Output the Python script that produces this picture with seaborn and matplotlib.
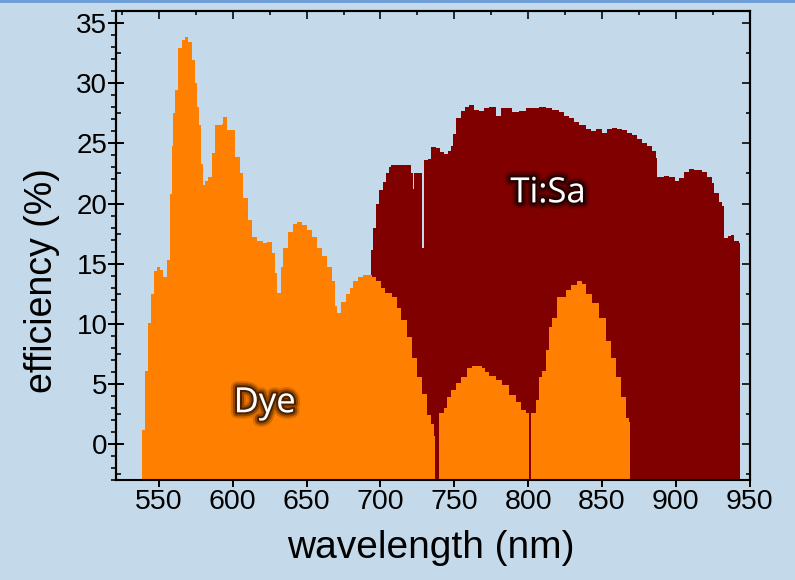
import matplotlib

matplotlib.use("Agg")
import matplotlib.pyplot as plt
import numpy as np
import seaborn as sns
from matplotlib import patheffects
from matplotlib.patches import Rectangle
from matplotlib.ticker import FixedLocator, MultipleLocator, NullLocator

# Dye laser tuning curve: left edge of each step (nm) and efficiency (%)
dye_start = [
    538.5, 540.5, 542.6, 544.6, 546.6, 548.6, 550.7, 552.7, 555.4, 557.4,
    558.8, 559.5, 560.8, 562.8, 565.5, 567.6, 569.6, 572.3, 574.3, 575.7,
    577.0, 578.4, 579.7, 581.1, 583.1, 585.8, 587.8, 592.6, 593.2, 596.0,
    601.4, 604.7, 606.8, 610.1, 612.8, 616.2, 620.3, 623.0, 626.4, 628.4,
    629.7, 632.4, 633.8, 637.2, 640.5, 643.5, 646.6, 650.0, 653.4, 656.8,
    660.1, 663.5, 666.9, 668.9, 670.9, 673.6, 677.0, 679.1, 681.1, 684.5,
    688.0, 694.0, 697.3, 700.7, 703.4, 708.1, 711.0, 714.2, 718.2, 721.6,
    725.0, 728.4, 731.8, 734.5, 736.5, 737.2, 739.9, 743.2, 745.3, 748.0,
    751.4, 754.7, 758.8, 762.0, 766.0, 768.9, 771.0, 773.7, 778.4, 782.4,
    787.2, 791.9, 795.3, 798.7, 800.7, 802.2, 805.4, 807.4, 809.5, 812.2,
    814.2, 816.2, 819.6, 825.7, 829.1, 833.1, 836.5, 839.2, 843.2, 847.9,
    852.7, 856.1, 859.5, 862.8, 866.2, 868.2,
]
dye_eff = [
    1.2, 6.1, 10.1, 12.5, 14.4, 14.7, 14.5, 13.9, 15.3, 20.8,
    24.8, 27.5, 29.4, 32.9, 33.6, 33.8, 33.4, 31.9, 30.0, 28.0,
    26.5, 23.3, 21.5, 21.9, 22.2, 24.2, 26.5, 26.6, 27.2, 26.1,
    23.9, 22.5, 20.5, 18.6, 17.2, 16.9, 16.7, 16.8, 15.9, 14.2,
    12.6, 14.7, 16.3, 17.6, 18.3, 18.5, 18.2, 17.8, 17.2, 16.3,
    15.6, 14.7, 13.6, 11.5, 10.9, 11.8, 12.5, 13.0, 13.6, 13.9,
    14.1, 13.9, 13.6, 13.0, 12.6, 12.2, 11.3, 10.3, 8.9, 7.2,
    5.6, 4.2, 2.4, 1.7, 0.7, np.nan, 2.6, 3.0, 3.9, 4.5,
    5.1, 5.6, 6.3, 6.5, 6.5, 6.3, 6.0, 5.7, 5.3, 4.9,
    4.1, 3.5, 2.8, 2.6, np.nan, 2.6, 3.7, 5.6, 6.1, 7.8,
    9.7, 10.5, 12.2, 12.8, 13.2, 13.6, 13.3, 12.5, 11.7, 10.5,
    8.6, 7.2, 5.6, 3.9, 2.2, 1.8,
]
dye_end = 869.0

# Ti:Sa laser tuning curve
tisa_start = [
    692.6, 693.9, 694.8, 697.1, 699.3, 701.6, 703.9, 706.1, 707.2, 720.7,
    722.0, 722.9, 728.2, 729.2, 732.0, 734.3, 737.6, 740.0, 743.2, 745.5,
    747.8, 749.0, 751.4, 754.7, 757.4, 760.1, 763.5, 766.9, 770.3, 773.7,
    778.4, 781.8, 785.1, 789.2, 793.9, 798.7, 802.7, 807.4, 812.2, 816.2,
    820.9, 824.3, 827.7, 831.1, 834.5, 839.2, 842.6, 846.0, 850.0, 853.4,
    856.8, 860.1, 863.5, 866.9, 870.3, 873.7, 877.0, 880.4, 883.8, 886.5,
    887.2, 891.9, 895.3, 899.3, 902.0, 905.4, 908.8, 912.2, 917.6, 921.0,
    924.4, 925.7, 929.1, 931.2, 932.5, 935.2, 937.2, 939.3, 942.6,
]
tisa_eff = [
    14.0, 16.1, 18.0, 20.0, 21.1, 21.8, 22.5, 23.0, 23.2, 22.5,
    21.2, 22.5, 16.3, 23.6, 23.7, 24.7, 24.6, 24.3, 24.1, 24.4,
    24.8, 25.8, 27.1, 27.7, 28.0, 28.2, 27.8, 27.7, 27.9, 28.0,
    27.3, 27.9, 27.9, 27.6, 27.7, 27.9, 27.9, 28.0, 27.9, 27.8,
    27.6, 27.3, 27.1, 26.8, 26.5, 26.2, 26.0, 26.2, 25.9, 26.2,
    26.3, 26.2, 26.1, 25.9, 25.7, 25.4, 25.0, 24.8, 24.4, 23.8,
    22.2, 22.3, 22.2, 21.9, 22.1, 22.6, 22.9, 22.8, 22.6, 22.2,
    21.7, 20.9, 20.1, 19.8, 17.1, 17.3, 17.4, 16.9, 16.7,
]
tisa_end = 943.3

x_ticks = [550, 600, 650, 700, 750, 800, 850, 900, 950]
y_ticks = [0, 5, 10, 15, 20, 25, 30, 35]

BG = "#c4d9e9"
DYE_COLOR = "#ff8000"
TISA_COLOR = "#800000"
Y_MIN, Y_MAX = -3, 36


def glow(color):
    # soft dark halo behind the white labels
    return [
        patheffects.withStroke(linewidth=9, foreground=color, alpha=0.2),
        patheffects.withStroke(linewidth=6, foreground=color, alpha=0.4),
        patheffects.withStroke(linewidth=3, foreground=color, alpha=0.8),
    ]


sns.set_theme(style="ticks", rc={
    "axes.facecolor": BG,
    "figure.facecolor": BG,
    "axes.edgecolor": "black",
    "axes.linewidth": 1.5,
})
plt.rcParams["font.family"] = ["Liberation Sans", "DejaVu Sans"]

fig, ax = plt.subplots(figsize=(7.95, 5.8), dpi=100)
fig.subplots_adjust(left=0.146, right=0.943, top=0.981, bottom=0.172)

ax.stairs(tisa_eff, tisa_start + [tisa_end], baseline=Y_MIN, fill=True,
          color=TISA_COLOR, lw=0)
ax.stairs(dye_eff, dye_start + [dye_end], baseline=Y_MIN, fill=True,
          color=DYE_COLOR, lw=0)

ax.set_xlim(521, 950)
ax.set_ylim(Y_MIN, Y_MAX)
ax.set_xticks(x_ticks)
ax.set_yticks(y_ticks)
ax.yaxis.set_minor_locator(MultipleLocator(1))
ax.xaxis.set_minor_locator(NullLocator())

ax.tick_params(axis="x", which="major", direction="out", length=5, width=1.4,
               pad=1, labelsize=20.5, colors="black", top=False)
ax.tick_params(axis="y", which="major", direction="inout", length=11.5,
               width=1.4, pad=0.5, labelsize=20, colors="black", right=False)
ax.tick_params(axis="y", which="minor", direction="out", length=3.6,
               width=1.4, right=False)

# inner ticks at the half steps on the left axis
left_in = ax.secondary_yaxis("left")
left_in.yaxis.set_major_locator(FixedLocator([-2.5, 2.5, 7.5, 12.5, 17.5, 22.5, 27.5, 32.5]))
left_in.yaxis.set_minor_locator(NullLocator())
left_in.tick_params(direction="in", length=3.6, width=1.4, labelleft=False)

# mirrored axes: top and right, ticks pointing inwards
top = ax.secondary_xaxis("top")
top.xaxis.set_major_locator(MultipleLocator(50))
top.xaxis.set_minor_locator(MultipleLocator(25))
top.tick_params(which="major", direction="in", length=5.8, width=1.4, labeltop=False)
top.tick_params(which="minor", direction="in", length=2.9, width=1.4)

right = ax.secondary_yaxis("right")
right.yaxis.set_major_locator(MultipleLocator(5))
right.yaxis.set_minor_locator(MultipleLocator(2.5))
right.tick_params(which="major", direction="in", length=5.8, width=1.4, labelright=False)
right.tick_params(which="minor", direction="in", length=2.9, width=1.4)

ax.set_xlabel("wavelength (nm)", fontsize=28, color="black")
ax.set_ylabel("efficiency (%)", fontsize=27, color="black")
ax.xaxis.set_label_coords(0.497, -0.105)
ax.yaxis.set_label_coords(-0.088, 0.426)

label_font = ["Open Sans", "DejaVu Sans"]
ax.text(621.6, 3.4, "Dye", family=label_font, fontsize=25, color="white",
        ha="center", va="center", path_effects=glow("#3a1800"))
ax.text(813.5, 20.85, "Ti:Sa", family=label_font, fontsize=25, color="white",
        ha="center", va="center", path_effects=glow("#1a0000"))

# thin blue strip along the top edge of the slide
fig.add_artist(Rectangle((0, 1 - 3 / 580), 1, 3 / 580, transform=fig.transFigure,
                         color="#6f9fd6", lw=0))

fig.savefig("out.png", dpi=100, facecolor=BG)
